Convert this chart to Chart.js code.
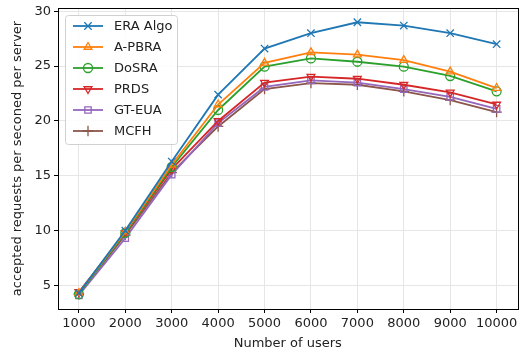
<!DOCTYPE html>
<html>
<head>
<meta charset="utf-8">
<script src="https://cdn.jsdelivr.net/npm/chart.js@4.4.0/dist/chart.umd.min.js"></script>
<style>
  html, body { margin: 0; padding: 0; background: #fff; }
  #wrap { width: 524px; height: 355px; }
</style>
</head>
<body>
<div id="wrap"><canvas id="c" width="524" height="355"></canvas></div>
<script>
const users = [1000, 2000, 3000, 4000, 5000, 6000, 7000, 8000, 9000, 10000];
const eraAlgo = [4.3, 10.0, 16.3, 22.4, 26.6, 28.0, 29.0, 28.7, 28.0, 27.0];
const aPbra = [4.3, 9.9, 16.0, 21.5, 25.3, 26.25, 26.05, 25.55, 24.5, 23.0];
const dosra = [4.2, 9.8, 15.8, 21.0, 24.95, 25.7, 25.4, 24.95, 24.1, 22.7];
const prds = [4.4, 9.8, 15.6, 20.0, 23.5, 24.05, 23.85, 23.3, 22.6, 21.5];
const gtEua = [4.1, 9.3, 15.1, 19.8, 23.1, 23.7, 23.5, 22.9, 22.2, 21.1];
const mcfh = [4.2, 9.6, 15.3, 19.5, 22.9, 23.45, 23.3, 22.7, 21.9, 20.8];
const yTicks = [5, 10, 15, 20, 25, 30];

const FONT = "'DejaVu Sans', sans-serif";

function series(label, values, color, style, rotation) {
  return {
    label,
    data: values.map((v, i) => ({ x: users[i], y: v })),
    borderColor: color,
    backgroundColor: color,
    borderWidth: 1.8,
    pointStyle: style,
    pointRotation: rotation || 0,
    pointRadius: style === "crossRot" || style === "cross" ? 5.2 : 4.5,
    pointBorderColor: color,
    pointBackgroundColor: "rgba(255,255,255,0)",
    pointBorderWidth: 1.3,
    tension: 0,
  };
}

const datasets = [
  series("ERA Algo", eraAlgo, "#1f77b4", "crossRot"),
  series("A-PBRA", aPbra, "#ff7f0e", "triangle"),
  series("DoSRA", dosra, "#2ca02c", "circle"),
  series("PRDS", prds, "#d62728", "triangle", 180),
  series("GT-EUA", gtEua, "#9467bd", "rect"),
  series("MCFH", mcfh, "#8c564b", "cross"),
];

// matplotlib-style frame and legend box
const framePlugin = {
  id: "frame",
  afterDraw(chart) {
    const { ctx, chartArea: a } = chart;
    ctx.save();
    ctx.strokeStyle = "#000";
    ctx.lineWidth = 1;
    ctx.strokeRect(Math.round(a.left) + 0.5, Math.round(a.top) + 0.5,
      Math.round(a.right - a.left), Math.round(a.bottom - a.top));

    // legend
    const x0 = a.left + 7, y0 = a.top + 7, w = 112, rowH = 21;
    const h = 129;
    ctx.fillStyle = "rgba(255,255,255,0.85)";
    ctx.strokeStyle = "#d0d0d0";
    ctx.beginPath();
    ctx.roundRect(x0 + 0.5, y0 + 0.5, w, h, 3);
    ctx.fill();
    ctx.stroke();
    ctx.font = "13px " + FONT;
    ctx.textBaseline = "middle";
    datasets.forEach((ds, i) => {
      const cy = y0 + 11 + i * rowH;
      ctx.strokeStyle = ds.borderColor;
      ctx.lineWidth = ds.borderWidth;
      ctx.beginPath();
      ctx.moveTo(x0 + 8, cy);
      ctx.lineTo(x0 + 38, cy);
      ctx.stroke();
      ctx.fillStyle = "rgba(255,255,255,0)";
      ctx.lineWidth = ds.pointBorderWidth;
      Chart.helpers.drawPoint(ctx, {
        pointStyle: ds.pointStyle,
        radius: ds.pointRadius,
        rotation: ds.pointRotation,
        borderWidth: ds.pointBorderWidth,
      }, x0 + 23, cy);
      ctx.fillStyle = "#222";
      ctx.fillText(ds.label, x0 + 49, cy + 1);
    });
    ctx.restore();
  },
};

new Chart(document.getElementById("c"), {
  type: "line",
  data: { datasets },
  plugins: [framePlugin],
  options: {
    responsive: false,
    animation: false,
    layout: { padding: { top: 8, right: 3, left: 0, bottom: 0 } },
    plugins: { legend: { display: false }, tooltip: { enabled: false } },
    scales: {
      x: {
        type: "linear",
        min: 550,
        max: 10450,
        afterBuildTicks: (s) => { s.ticks = users.map((v) => ({ value: v })); },
        afterFit: (s) => { s.height = 46; s.paddingLeft = 0; s.paddingRight = 0; },
        grid: { color: "#e6e6e6", lineWidth: 1, tickColor: "#000", tickLength: 4 },
        border: { color: "#000" },
        ticks: {
          color: "#222", font: { family: FONT, size: 13 }, padding: 3,
          maxRotation: 0, autoSkip: false,
          callback: (v) => String(v),
        },
        title: {
          display: true, text: "Number of users", color: "#222",
          font: { family: FONT, size: 13 }, padding: { top: 0, bottom: 4 },
        },
      },
      y: {
        min: 2.85,
        max: 30.3,
        afterBuildTicks: (s) => { s.ticks = yTicks.map((v) => ({ value: v })); },
        afterFit: (s) => { s.width = 58; s.paddingTop = 0; s.paddingBottom = 0; },
        grid: { color: "#e6e6e6", lineWidth: 1, tickColor: "#000", tickLength: 4 },
        border: { color: "#000" },
        ticks: { color: "#222", font: { family: FONT, size: 13 }, padding: 3 },
        title: {
          display: true, text: "accepted requests per seconed per server", color: "#222",
          font: { family: FONT, size: 13 }, padding: { top: 10, bottom: 0 },
        },
      },
    },
  },
});
</script>
</body>
</html>
